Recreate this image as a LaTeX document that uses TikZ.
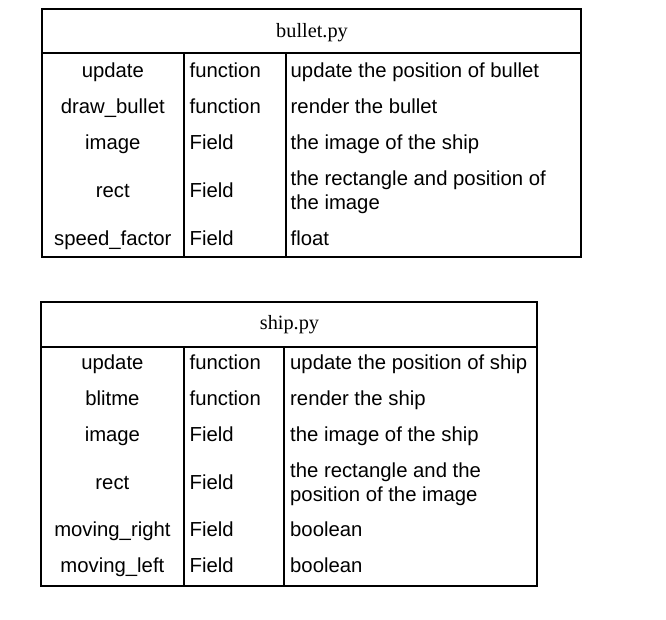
\documentclass[tikz,border=0pt]{standalone}
\usepackage{fontspec}
\setmainfont{Liberation Serif}
\newfontfamily\tabsans{Liberation Sans}
\begin{document}
\begin{tikzpicture}[x=1pt,y=-1pt,
  grid/.style={line width=2pt,draw=black},
  ttl/.style={inner sep=0pt,anchor=base,font=\fontsize{20.3}{24}\selectfont},
  cname/.style={inner sep=0pt,anchor=base,font=\tabsans\fontsize{20.3}{24}\selectfont},
  ctxt/.style={inner sep=0pt,anchor=base west,font=\tabsans\fontsize{20.3}{24}\selectfont}]
\useasboundingbox (0,0) rectangle (666,620);
% ---- bullet.py table
\draw[grid] (41.5,9.5) rectangle (581,257);
\draw[grid] (41.5,53.5) -- (581,53.5);
\draw[grid] (184,53.5) -- (184,257);
\draw[grid] (285.5,53.5) -- (285.5,257);
\node[ttl] (bt) at (312,37.5) {bullet.py};
\node[cname] (b1a) at (112.8,78) {update};
\node[ctxt] (b1b) at (189.5,78) {function};
\node[ctxt] (b1c) at (290.5,78) {update the position of bullet};
\node[cname] (b2a) at (112.8,113.5) {draw\_bullet};
\node[ctxt] (b2b) at (189.5,113.5) {function};
\node[ctxt] (b2c) at (290.5,113.5) {render the bullet};
\node[cname] (b3a) at (112.8,149.5) {image};
\node[ctxt] (b3b) at (189.5,149.5) {Field};
\node[ctxt] (b3c) at (290.5,149.5) {the image of the ship};
\node[cname] (b4a) at (112.8,198) {rect};
\node[ctxt] (b4b) at (189.5,198) {Field};
\node[ctxt] (b4c) at (290.5,186) {the rectangle and position of};
\node[ctxt] (b4d) at (290.5,210) {the image};
\node[cname] (b5a) at (112.8,245.5) {speed\_factor};
\node[ctxt] (b5b) at (189.5,245.5) {Field};
\node[ctxt] (b5c) at (290.5,245.5) {float};
% ---- ship.py table
\draw[grid] (41,301.7) rectangle (536.7,585.7);
\draw[grid] (41,346.5) -- (536.7,346.5);
\draw[grid] (183.7,346.5) -- (183.7,585.7);
\draw[grid] (284,346.5) -- (284,585.7);
\node[ttl] (st) at (289.5,329.5) {ship.py};
\node[cname] (s1a) at (112.4,369.5) {update};
\node[ctxt] (s1b) at (189.5,369.5) {function};
\node[ctxt] (s1c) at (290,369.5) {update the position of ship};
\node[cname] (s2a) at (112.4,405) {blitme};
\node[ctxt] (s2b) at (189.5,405) {function};
\node[ctxt] (s2c) at (290,405) {render the ship};
\node[cname] (s3a) at (112.4,441) {image};
\node[ctxt] (s3b) at (189.5,441) {Field};
\node[ctxt] (s3c) at (290,441) {the image of the ship};
\node[cname] (s4a) at (112.4,489) {rect};
\node[ctxt] (s4b) at (189.5,489) {Field};
\node[ctxt] (s4c) at (290,477) {the rectangle and the};
\node[ctxt] (s4d) at (290,501) {position of the image};
\node[cname] (s5a) at (112.4,536.5) {moving\_right};
\node[ctxt] (s5b) at (189.5,536.5) {Field};
\node[ctxt] (s5c) at (290,536.5) {boolean};
\node[cname] (s6a) at (112.4,572.5) {moving\_left};
\node[ctxt] (s6b) at (189.5,572.5) {Field};
\node[ctxt] (s6c) at (290,572.5) {boolean};
\end{tikzpicture}
\end{document}
